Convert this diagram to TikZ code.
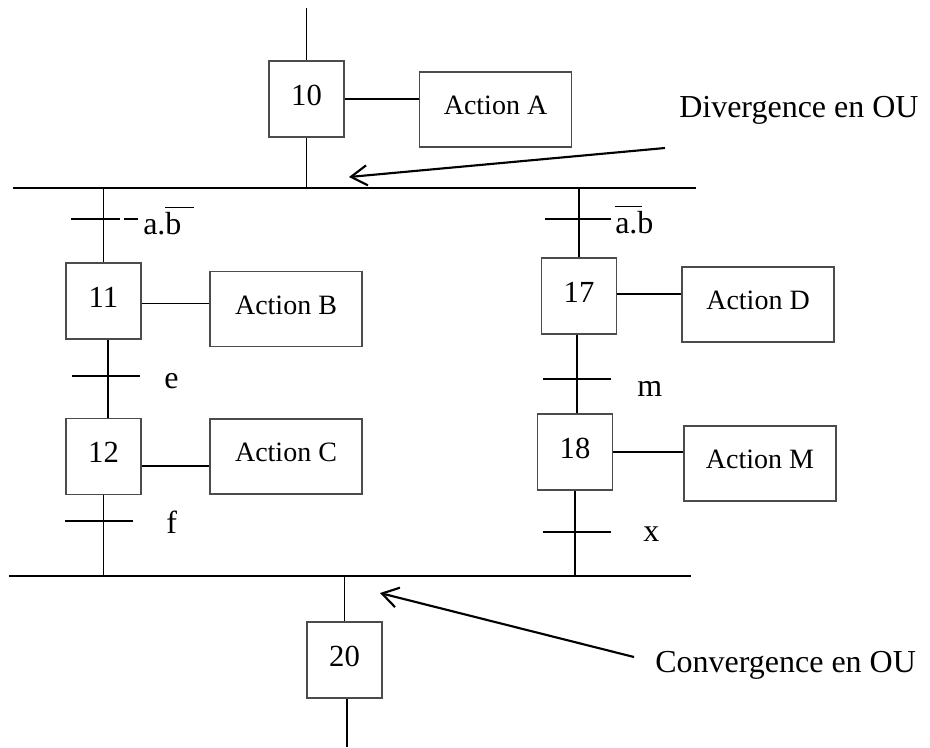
\documentclass[tikz,border=0pt]{standalone}
\usepackage{fontspec}
\setmainfont{Liberation Serif}
\usetikzlibrary{arrows.meta}
\newcommand{\haut}[1]{\raisebox{6pt}{#1}}
\newcommand{\barrer}[1]{$\overline{\hbox{\rule{0pt}{19pt}#1\hspace{0.4em}}}$}

\begin{document}
\begin{tikzpicture}[x=0.75pt,y=0.75pt,yscale=-1,xscale=1,
	etape/.style={draw=black!70, line width=0.8pt, minimum width=56.25pt, minimum height=57pt, inner sep=0pt, font=\fontsize{23}{27}\selectfont},
	action/.style={draw=black!70, line width=0.8pt, minimum width=114pt, minimum height=56.25pt, inner sep=0pt, font=\fontsize{21}{25}\selectfont},
	lien/.style={line width=1.2pt},
	recept/.style={line width=1.3pt},
	barre/.style={line width=1.9pt},
	etiq/.style={inner sep=0pt, anchor=base west, font=\fontsize{24}{28}\selectfont},
	fleche/.style={line width=1.6pt, -{Straight Barb[length=12pt,width=15pt]}}]
		\useasboundingbox (0,0) rectangle (930,747);
		
		% etapes
		\node [etape] (s10) at (306.5,99) {\haut{10}};
		\node [etape] (s11) at (103.5,301) {\haut{11}};
		\node [etape] (s12) at (103.5,456.5) {\haut{12}};
		\node [etape] (s17) at (579,296) {\haut{17}};
		\node [etape] (s18) at (575,452) {\haut{18}};
		\node [etape] (s20) at (344.5,660) {\haut{20}};
		
		% actions
		\node [action] (aA) at (495.5,109.5) {\haut{Action A}};
		\node [action] (aB) at (286,309) {\haut{Action B}};
		\node [action] (aC) at (286,456.5) {\haut{Action C}};
		\node [action] (aD) at (758,304.5) {\haut{Action D}};
		\node [action] (aM) at (760,463.5) {\haut{Action M}};
		
		\coordinate (haut) at (308,8);
		\coordinate (bas) at (347,747);
		\coordinate (divL) at (13,188);
		\coordinate (divR) at (696,188);
		\coordinate (convL) at (9,576);
		\coordinate (convR) at (691,576);
		
		% divergence / convergence en OU
		\draw [barre] (divL) -- (divR);
		\draw [barre] (convL) -- (convR);
		
		\draw [lien] (s10.north) -- (s10.north |- haut);
		\draw [lien] (s10.south) -- (s10.south |- divL);
		\draw [lien] (s11.north) -- (s11.north |- divL);
		\draw [lien] ([xshift=3.4pt]s11.south) -- ([xshift=3.4pt]s12.north);
		\draw [lien] (s12.south) -- (s12.south |- convL);
		\draw [lien] (s17.north) -- (s17.north |- divL);
		\draw [lien] ([xshift=-1.5pt]s17.south) -- ([xshift=-1.5pt]s17.south |- s18.north);
		\draw [lien] (s18.south) -- (s18.south |- convL);
		\draw [lien] (s20.north) -- (s20.north |- convL);
		\draw [lien] ([xshift=2pt]s20.south) -- ([xshift=2pt]s20.south |- bas);
		
		\draw [lien] (s10.east) -- (s10.east -| aA.west);
		\draw [lien] ([yshift=2pt]s11.east) -- ([yshift=2pt]s11.east -| aB.west);
		\draw [lien] ([yshift=7pt]s12.east) -- ([yshift=7pt]s12.east -| aC.west);
		\draw [lien] ([yshift=-1.5pt]s17.east) -- ([yshift=-1.5pt]s17.east -| aD.west);
		\draw [lien] (s18.east) -- (s18.east -| aM.west);
		
		% receptivites
		\draw [recept] (71,219) -- (120,219);
		\draw [recept] (124,219) -- (138,219);
		\draw [recept] (545,219) -- (611,219);
		\draw [recept] (72,376) -- (140,376);
		\draw [recept] (543,379) -- (611,379);
		\draw [recept] (65,521) -- (133,521);
		\draw [recept] (543,532) -- (611,532);
		
		\node [etiq] (r1) at (143,234) {a.\barrer{b}};
		\node [etiq] (r2) at (615,233) {\barrer{a}\hspace{-0.4em}.b};
		\node [etiq] (r3) at (164,388) {e};
		\node [etiq] (r4) at (637,396) {m};
		\node [etiq] (r5) at (166,533) {f};
		\node [etiq] (r6) at (643,541) {x};
		
		% commentaires
		\node [etiq] (div) at (679,117) {Divergence en OU};
		\node [etiq] (conv) at (655,672) {Convergence en OU};
		\coordinate (divq) at (665,148);
		\coordinate (divp) at (349,177);
		\coordinate (convq) at (634,657);
		\coordinate (convp) at (380,593);
		\draw [fleche] (divq) -- (divp);
		\draw [fleche] (convq) -- (convp);
		
\end{tikzpicture}
\end{document}
